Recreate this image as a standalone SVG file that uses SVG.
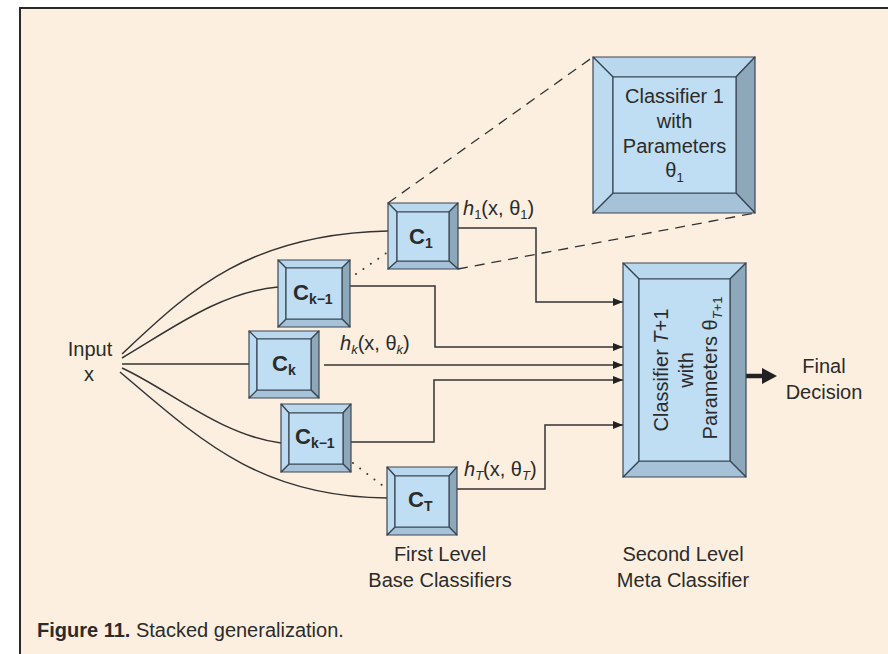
<svg xmlns="http://www.w3.org/2000/svg" width="888" height="654" viewBox="0 0 888 654">
<defs>
<style>
.t{font-family:"Liberation Sans",Arial,sans-serif;font-size:20px;fill:#2b2b2b}
.c{font-family:"Liberation Sans",Arial,sans-serif;font-size:22px;font-weight:bold;fill:#2b2b2b}
.b{font-weight:bold}
.i{font-style:italic}
.top{fill:#b9d8ee}
.lft{fill:#bcdbf1}
.face{fill:#bfddf3}
.rgt{fill:#8ea8bb}
.bot{fill:#a6c2d8}
.bx polygon,.bx rect{stroke:#3b4753;stroke-width:1.2;stroke-linejoin:round}
.ln{fill:none;stroke:#333;stroke-width:1.5}
.dash{fill:none;stroke:#333;stroke-width:1.3;stroke-dasharray:10 7}
.dot{fill:none;stroke:#333;stroke-width:2;stroke-linecap:round;stroke-dasharray:0 9}
</style>
<marker id="ah" markerUnits="userSpaceOnUse" markerWidth="10" markerHeight="8" refX="10" refY="4" orient="auto">
<path d="M0,0 L10,4 L0,8 z" fill="#222"/>
</marker>
</defs>
<rect x="0" y="0" width="888" height="654" fill="#fff"/>
<rect x="20" y="8" width="900" height="700" fill="#fdefe0" stroke="#2a2a2a" stroke-width="2"/>

<g id="connectors">
<path class="ln" d="M122,354 C185,295 245,234 388,231"/>
<path class="ln" d="M122,358 C170,330 220,292 278,287"/>
<path class="ln" d="M122,364 L249,364"/>
<path class="ln" d="M122,368 C170,390 220,435 281,443"/>
<path class="ln" d="M120,372 C200,440 260,497 387,498"/>
<path class="ln" d="M458,228 H536 V302 H623" marker-end="url(#ah)"/>
<path class="ln" d="M350,286 H435 V347 H623" marker-end="url(#ah)"/>
<path class="ln" d="M324,365 H623" marker-end="url(#ah)"/>
<path class="ln" d="M351,442 H434 V380 H623" marker-end="url(#ah)"/>
<path class="ln" d="M457,489 H545 V425 H623" marker-end="url(#ah)"/>
<path d="M746,376 H764" stroke="#222" stroke-width="4.5" fill="none"/>
<path d="M762,368 L777,376 L762,384 z" fill="#222"/>
<path class="dash" d="M388,203 L593,57"/>
<path class="dash" d="M458,269 L755,213"/>
<path class="dot" d="M356,274 L388,252"/>
<path class="dot" d="M353,463 L387,489"/>
</g>

<g id="classifier1-detail" class="bx">
<polygon class="top" points="593,57 755,57 736,77 613,77"/>
<polygon class="rgt" points="755,57 755,213 736,193 736,77"/>
<polygon class="bot" points="755,213 593,213 613,193 736,193"/>
<polygon class="lft" points="593,213 593,57 613,77 613,193"/>
<rect class="face" x="613" y="77" width="123" height="116"/>
<text class="t" text-anchor="middle" x="674.5" y="103">Classifier 1</text>
<text class="t" text-anchor="middle" x="674.5" y="128">with</text>
<text class="t" text-anchor="middle" x="674.5" y="153">Parameters</text>
<text class="t" text-anchor="middle" x="674.5" y="177">θ<tspan font-size="13" dy="5">1</tspan></text>
</g>

<g id="c1" class="bx">
<polygon class="top" points="388,203 458,203 449,212 397,212"/>
<polygon class="rgt" points="458,203 458,269 449,261 449,212"/>
<polygon class="bot" points="458,269 388,269 397,261 449,261"/>
<polygon class="lft" points="388,269 388,203 397,212 397,261"/>
<rect class="face" x="397" y="212" width="52" height="49"/>
<text class="c" x="409" y="244">C<tspan font-size="14" dy="4">1</tspan></text>
</g>

<g id="ck1-upper" class="bx">
<polygon class="top" points="278,260 350,260 342,268 286,268"/>
<polygon class="rgt" points="350,260 350,327 342,319 342,268"/>
<polygon class="bot" points="350,327 278,327 286,319 342,319"/>
<polygon class="lft" points="278,327 278,260 286,268 286,319"/>
<rect class="face" x="286" y="268" width="56" height="51"/>
<text class="c" x="293" y="300">C<tspan font-size="14" dy="4">k−1</tspan></text>
</g>

<g id="ck" class="bx">
<polygon class="top" points="249,331 319,331 311,339 257,339"/>
<polygon class="rgt" points="319,331 319,398 311,390 311,339"/>
<polygon class="bot" points="319,398 249,398 257,390 311,390"/>
<polygon class="lft" points="249,398 249,331 257,339 257,390"/>
<rect class="face" x="257" y="339" width="54" height="51"/>
<text class="c" x="272" y="371">C<tspan font-size="14" dy="4">k</tspan></text>
</g>

<g id="ck1-lower" class="bx">
<polygon class="top" points="281,404 351,404 343,413 289,413"/>
<polygon class="rgt" points="351,404 351,472 343,464 343,413"/>
<polygon class="bot" points="351,472 281,472 289,464 343,464"/>
<polygon class="lft" points="281,472 281,404 289,413 289,464"/>
<rect class="face" x="289" y="413" width="54" height="51"/>
<text class="c" x="295" y="444">C<tspan font-size="14" dy="4">k−1</tspan></text>
</g>

<g id="ct" class="bx">
<polygon class="top" points="387,467 457,467 449,476 395,476"/>
<polygon class="rgt" points="457,467 457,535 449,527 449,476"/>
<polygon class="bot" points="457,535 387,535 395,527 449,527"/>
<polygon class="lft" points="387,535 387,467 395,476 395,527"/>
<rect class="face" x="395" y="476" width="54" height="51"/>
<text class="c" x="408" y="507">C<tspan font-size="14" dy="4">T</tspan></text>
</g>

<g id="meta" class="bx">
<polygon class="top" points="623,263 746,263 730,279 639,279"/>
<polygon class="rgt" points="746,263 746,477 730,461 730,279"/>
<polygon class="bot" points="746,477 623,477 639,461 730,461"/>
<polygon class="lft" points="623,477 623,263 639,279 639,461"/>
<rect class="face" x="639" y="279" width="91" height="182"/>
<text class="t" text-anchor="middle" transform="translate(668,370) rotate(-90)">Classifier <tspan class="i">T</tspan>+1</text>
<text class="t" text-anchor="middle" transform="translate(693,370) rotate(-90)">with</text>
<text class="t" text-anchor="middle" transform="translate(717,368) rotate(-90)">Parameters θ<tspan font-size="13" dy="5"><tspan class="i">T</tspan>+1</tspan></text>
</g>

<g id="labels">
<text class="t" text-anchor="middle" x="90" y="356">Input</text>
<text class="t" text-anchor="middle" x="89" y="381">x</text>
<text class="t" x="463" y="215"><tspan class="i">h</tspan><tspan font-size="13" dy="4">1</tspan><tspan dy="-4">(x, θ</tspan><tspan font-size="13" dy="4">1</tspan><tspan dy="-4">)</tspan></text>
<text class="t" x="340" y="350"><tspan class="i">h</tspan><tspan class="i" font-size="13" dy="4">k</tspan><tspan dy="-4">(x, θ</tspan><tspan class="i" font-size="13" dy="4">k</tspan><tspan dy="-4">)</tspan></text>
<text class="t" x="464" y="476"><tspan class="i">h</tspan><tspan class="i" font-size="13" dy="4">T</tspan><tspan dy="-4">(x, θ</tspan><tspan class="i" font-size="13" dy="4">T</tspan><tspan dy="-4">)</tspan></text>
<text class="t" text-anchor="middle" x="824" y="373">Final</text>
<text class="t" text-anchor="middle" x="824" y="399">Decision</text>
<text class="t" text-anchor="middle" x="440" y="561">First Level</text>
<text class="t" text-anchor="middle" x="440" y="587">Base Classifiers</text>
<text class="t" text-anchor="middle" x="683" y="561">Second Level</text>
<text class="t" text-anchor="middle" x="683" y="587">Meta Classifier</text>
<text class="t" x="37" y="637" font-size="18"><tspan class="b">Figure 11.</tspan> Stacked generalization.</text>
</g>
</svg>
